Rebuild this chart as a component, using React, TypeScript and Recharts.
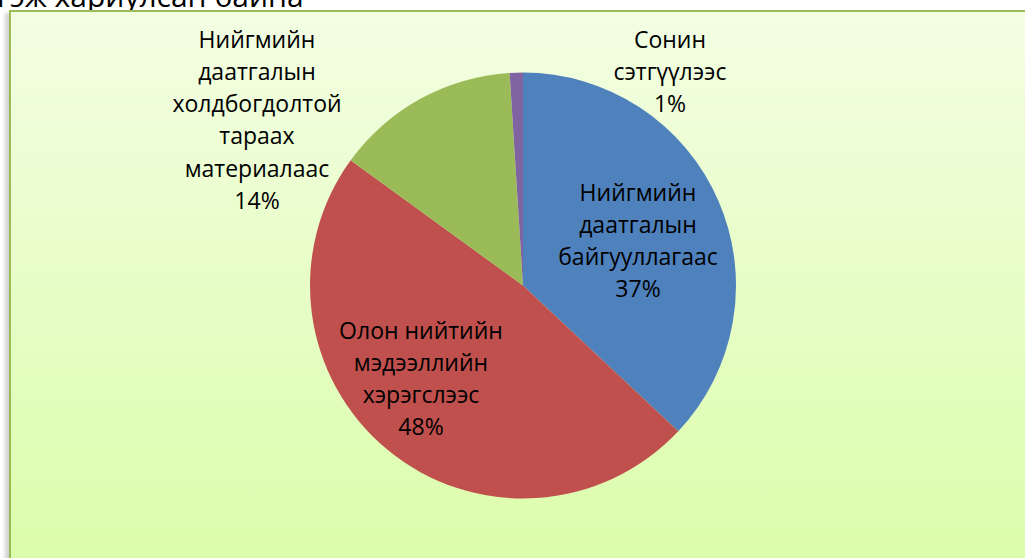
import { PieChart, Pie, Cell } from "recharts";

const categories = [
  "Нийгмийн даатгалын байгууллагаас",
  "Олон нийтийн мэдээллийн хэрэгслээс",
  "Нийгмийн даатгалын холдбогдолтой тараах материалаас",
  "Сонин сэтгүүлээс",
];
const shares = [37, 48, 14, 1];
const labelLines = [
  ["Нийгмийн", "даатгалын", "байгууллагаас"],
  ["Олон нийтийн", "мэдээллийн", "хэрэгслээс"],
  ["Нийгмийн", "даатгалын", "холдбогдолтой", "тараах", "материалаас"],
  ["Сонин", "сэтгүүлээс"],
];
const colors = ["#4F81BD", "#C0504D", "#9BBB59", "#8064A2"];

// where each label block sits, relative to the pie centre (x centre, first baseline)
const labelSpots = [
  { dx: 115, dy: -85 },
  { dx: -102, dy: 53 },
  { dx: -266, dy: -238 },
  { dx: 147, dy: -238 },
];

const data = categories.map((name, i) => ({ name, value: shares[i] }));

const FONT = "'Open Sans', 'Noto Sans', sans-serif";
const LINE = 32.3;

const renderLabel = (props: any) => {
  const { cx, cy, index, percent } = props;
  const spot = labelSpots[index];
  const lines = [...labelLines[index], `${Math.round(percent * 100)}%`];
  const x = cx + spot.dx;
  return (
    <text
      x={x}
      y={cy + spot.dy}
      textAnchor="middle"
      fill="#000"
      fontSize={23}
      fontFamily={FONT}
    >
      {lines.map((l, i) => (
        <tspan key={i} x={x} dy={i === 0 ? 0 : LINE}>
          {l}
        </tspan>
      ))}
    </text>
  );
};

const App = () => {
  return (
    <div
      style={{
        position: "absolute",
        left: 0,
        top: 0,
        width: 1025,
        height: 558,
        overflow: "hidden",
        background: "#fff",
      }}
    >
      {/* tail of the paragraph above the chart, cut by the page edge */}
      <svg width={1025} height={12} style={{ position: "absolute", left: 0, top: 0 }}>
        <text x={-3} y={7} fontSize={30} fontFamily={FONT} fill="#000">
          гэж хариулсан байна
        </text>
      </svg>
      <div
        style={{
          position: "absolute",
          left: 9,
          top: 10,
          width: 1040,
          height: 570,
          border: "2px solid #9BBB59",
          boxSizing: "border-box",
          background: "linear-gradient(to bottom, #F3FEE3 0%, #DBFDA9 100%)",
          boxShadow: "-4px 3px 4px rgba(0,0,0,0.18)",
        }}
      />
      <div style={{ position: "absolute", left: 0, top: 0 }}>
        <PieChart width={1025} height={558} margin={{ top: 0, right: 0, bottom: 0, left: 0 }}>
          <Pie
            data={data}
            dataKey="value"
            nameKey="name"
            cx={523}
            cy={285.5}
            outerRadius={213}
            startAngle={90}
            endAngle={-270}
            stroke="none"
            label={renderLabel}
            labelLine={false}
            isAnimationActive={false}
          >
            {data.map((d, i) => (
              <Cell key={d.name} fill={colors[i]} />
            ))}
          </Pie>
        </PieChart>
      </div>
    </div>
  );
};

export default App;
